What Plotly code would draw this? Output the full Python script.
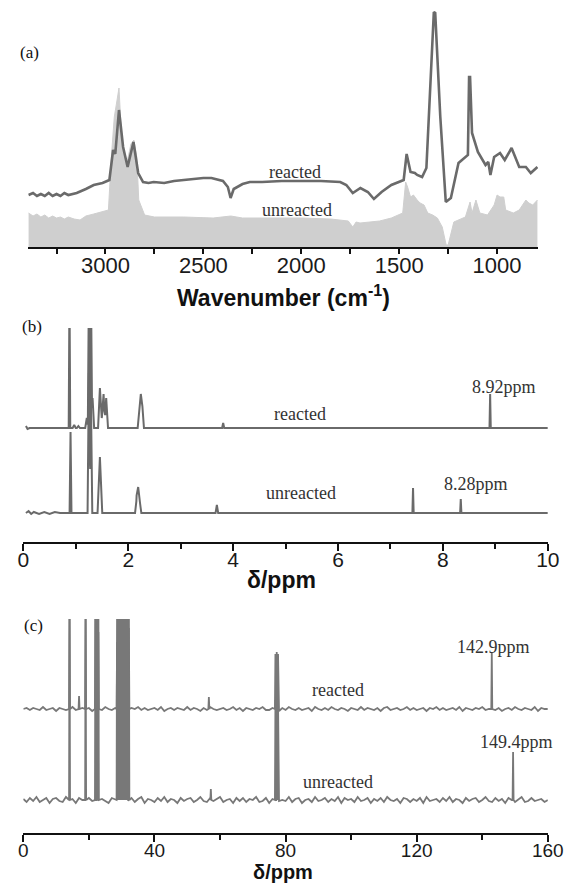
import plotly.graph_objects as go

# ---------------- DATA ----------------
# (a) FTIR spectra: wavenumber (cm-1) and intensity (arb. units)
IR_REACTED_WN = [3393, 3370, 3350, 3330, 3310, 3290, 3270, 3250, 3230, 3210, 3190, 3170, 3147,
                 3100, 3060, 3015, 2980, 2961, 2950, 2931, 2910, 2887, 2857, 2833, 2808, 2780,
                 2754, 2700, 2650, 2600, 2550, 2500, 2459, 2400, 2375, 2361, 2345, 2327, 2300,
                 2263, 2200, 2100, 2000, 1900, 1801, 1770, 1737, 1698, 1660, 1629, 1590, 1540,
                 1477, 1462, 1442, 1420, 1408, 1383, 1361, 1342, 1323, 1316, 1290, 1262, 1236,
                 1197, 1157, 1149, 1143, 1138, 1128, 1098, 1059, 1045, 1034, 1015, 985, 961,
                 926, 887, 853, 828, 794]
IR_REACTED_INT = [52, 54, 51, 53, 51, 54, 51, 53, 51, 54, 52, 53, 54,
                  58, 62, 64, 67, 97, 93, 137, 100, 80, 105, 74, 65, 64,
                  65, 64, 66, 67, 68, 69, 69, 66, 60, 49, 58, 60, 63,
                  65, 65, 66, 66, 66, 65, 62, 54, 59, 55, 48, 55, 62,
                  67, 93, 75, 74, 72, 70, 79, 150, 235, 234, 130, 45, 49,
                  84, 90, 92, 170, 170, 114, 95, 82, 85, 72, 90, 94, 87,
                  99, 80, 80, 74, 80]

IR_UNREACTED_WN = [3393, 3370, 3350, 3330, 3310, 3290, 3270, 3250, 3230, 3210, 3190, 3160, 3130,
                   3100, 3060, 3015, 2985, 2970, 2955, 2931, 2915, 2895, 2870, 2855, 2840, 2830,
                   2800, 2750, 2600, 2450, 2360, 2300, 2150, 2000, 1850, 1760, 1737, 1720, 1700,
                   1650, 1600, 1540, 1482, 1467, 1457, 1442, 1427, 1408, 1393, 1373, 1354, 1329,
                   1305, 1280, 1270, 1260, 1250, 1236, 1221, 1162, 1138, 1128, 1108, 1088, 1049,
                   1015, 1000, 985, 966, 956, 917, 887, 853, 838, 818, 794]
IR_UNREACTED_INT = [34, 31, 33, 30, 32, 29, 31, 29, 30, 28, 30, 28, 27,
                    31, 33, 35, 37, 90, 130, 159, 100, 80, 103, 107, 90, 47,
                    32, 30, 30, 29, 31, 29, 29, 29, 28, 26, 20, 25, 24,
                    25, 26, 29, 34, 65, 60, 50, 52, 47, 44, 42, 34, 32,
                    29, 20, 10, 2, 2, 14, 25, 30, 45, 34, 47, 34, 32,
                    42, 52, 50, 50, 37, 34, 37, 47, 44, 42, 47]

# (b) 1H NMR: peak positions (ppm), heights (arb. units), half line widths (ppm)
H1_REACTED_PPM = [0.88, 0.97, 1.05, 1.21, 1.25, 1.29, 1.32, 1.46, 1.50, 1.53, 1.58, 2.21, 2.24, 2.27, 3.81, 8.90]
H1_REACTED_INT = [140, 3, 2, 10, 140, 140, 30, 40, 12, 34, 30, 20, 34, 22, 5, 34]
H1_REACTED_WID = [0.015, 0.03, 0.03, 0.03, 0.02, 0.02, 0.03, 0.035, 0.03, 0.03, 0.035, 0.03, 0.03, 0.03, 0.02, 0.012]
H1_REACTED_BASE_PPM = [0.05, 0.08, 0.12, 10.0]
H1_REACTED_BASE_INT = [2, -1, 0, 0]

H1_UNREACTED_PPM = [0.90, 1.25, 1.29, 1.46, 2.16, 2.19, 2.22, 3.69, 7.43, 8.34]
H1_UNREACTED_INT = [81, 140, 110, 56, 14, 26, 12, 8, 25, 14]
H1_UNREACTED_WID = [0.018, 0.025, 0.025, 0.045, 0.03, 0.035, 0.03, 0.025, 0.012, 0.012]
H1_UNREACTED_BASE_PPM = [0.05, 0.10, 0.15, 0.20, 0.30, 0.40, 0.50, 0.60, 0.70, 10.0]
H1_UNREACTED_BASE_INT = [0, 2, -1, 1, -1, 1, -1, 1, 0, 0]

# (c) 13C NMR: peak positions (ppm) and heights (arb. units)
C13_REACTED_PPM = [14.1, 17.0, 19.0, 22.0, 22.6, 22.9, 28.6, 29.0, 29.3, 29.6, 29.9, 30.2, 30.5,
                   30.8, 31.1, 31.4, 32.2, 56.6, 76.9, 77.3, 77.7, 142.9]
C13_REACTED_INT = [100, 13, 100, 100, 100, 77, 67, 100, 100, 100, 100, 100, 100,
                   100, 100, 100, 81, 12, 55, 57, 55, 57]
C13_UNREACTED_PPM = [14.1, 19.0, 22.0, 22.6, 22.9, 28.6, 29.0, 29.3, 29.6, 29.9, 30.2, 30.5,
                     30.8, 31.1, 31.4, 31.8, 32.2, 57.2, 76.9, 77.3, 77.7, 149.4]
C13_UNREACTED_INT = [200, 200, 200, 200, 200, 200, 200, 200, 200, 200, 200, 200,
                     200, 200, 200, 200, 200, 11, 100, 103, 100, 48]
C13_BASE_PPM = [0, 1, 2, 3, 4, 5, 6, 7, 8, 9, 10, 11, 12, 13, 14, 15, 16, 17, 18, 19,
                20, 21, 22, 23, 24, 25, 26, 27, 28, 29, 30, 31, 32, 33, 34, 35, 36, 37, 38, 39,
                40, 41, 42, 43, 44, 45, 46, 47, 48, 49, 50, 51, 52, 53, 54, 55, 56, 57, 58, 59,
                60, 61, 62, 63, 64, 65, 66, 67, 68, 69, 70, 71, 72, 73, 74, 75, 76, 77, 78, 79,
                80, 81, 82, 83, 84, 85, 86, 87, 88, 89, 90, 91, 92, 93, 94, 95, 96, 97, 98, 99,
                100, 101, 102, 103, 104, 105, 106, 107, 108, 109, 110, 111, 112, 113, 114, 115, 116, 117, 118, 119,
                120, 121, 122, 123, 124, 125, 126, 127, 128, 129, 130, 131, 132, 133, 134, 135, 136, 137, 138, 139,
                140, 141, 142, 143, 144, 145, 146, 147, 148, 149, 150, 151, 152, 153, 154, 155, 156, 157, 158, 159,
                160]
C13_REACTED_NOISE = [0, 1, -1, 1, 0, -1, 2, -1, 0, 1, -2, 1, 0, -1, 1, 2, -1, 0, 1, -1,
                     1, -2, 0, 1, -1, 2, 0, -1, 1, 0, -1, 1, -2, 1, 0, 2, -1, 1, -1, 0,
                     1, -1, 2, -2, 0, 1, -1, 1, 0, -1, 2, -1, 1, 0, -2, 1, -1, 2, 0, -1,
                     0, 1, -1, 0, 2, -1, 1, -2, 1, 0, -1, 1, 0, 2, -1, -1, 1, 0, -2, 1,
                     -1, 2, 0, -1, 1, -1, 0, 1, -2, 2, 0, -1, 1, -1, 2, 0, -1, 1, 0, -2,
                     1, 0, -1, 2, -1, 1, 0, -1, 1, -2, 1, 2, -1, 0, 1, -1, 0, 2, -1, 1,
                     -1, 0, 1, -2, 1, 0, 2, -1, 1, -1, 0, 1, -1, 2, -2, 1, 0, -1, 1, 0,
                     2, -1, 0, 1, -1, 1, -2, 0, 1, -1, 2, 0, -1, 1, 0, -1, 2, -2, 1, 0,
                     0]
C13_UNREACTED_NOISE = [1, -2, 2, -1, 3, -2, 0, 2, -3, 1, 2, -1, -2, 3, -1, 1, -3, 2, 0, -2,
                       2, -1, 3, -2, 1, -1, -3, 2, 1, -2, 3, 0, -1, 2, -2, 1, 3, -3, 1, 0,
                       -2, 2, -1, 3, -2, 1, 0, -3, 2, -1, 1, 2, -2, 0, 3, -1, -2, 2, -1, 1,
                       3, -2, 0, 1, -3, 2, -1, 2, -2, 1, 0, 3, -2, -1, 2, -3, 1, 2, -1, 0,
                       -1, 3, -2, 1, 2, -3, 0, 1, -2, 3, -1, 0, 2, -2, 1, -1, 3, -3, 2, 0,
                       1, -2, 3, -1, 0, 2, -3, 1, -1, 2, -2, 3, 0, -1, 1, -3, 2, 1, -2, 1,
                       -1, 2, -3, 3, -1, 0, 1, -2, 2, -1, 3, -2, 1, 0, -3, 2, -1, 1, 2, -2,
                       0, 3, -1, -2, 2, -1, 1, -3, 2, 0, -2, 1, 3, -2, -1, 2, -1, 0, 1, -2,
                       0]

IR_TICKS = [3000, 2500, 2000, 1500, 1000]
IR_MINOR = [3250, 2750, 2250, 1750, 1250]
H1_TICKS = [0, 2, 4, 6, 8, 10]
H1_MINOR = [1, 3, 5, 7, 9]
C13_TICKS = [0, 40, 80, 120, 160]
C13_MINOR = [20, 60, 100, 140]

# ---------------- HELPERS ----------------
W, H = 585, 885


def px(x):
    return x / W


def py(y):
    return 1 - y / H


def spectrum(base_x, base_y, peaks_x, peaks_h, peaks_w, offset):
    """Envelope of triangular stick peaks drawn on top of a measured baseline."""
    knots = {}
    for x, y in zip(base_x, base_y):
        knots[round(x, 5)] = y
    for p, w in zip(peaks_x, peaks_w):
        for k in (p - w, p, p + w):
            knots.setdefault(round(k, 5), 0)
    xs = sorted(knots)
    ys = []
    for x in xs:
        v = knots[x]
        for p, h, w in zip(peaks_x, peaks_h, peaks_w):
            d = abs(x - p)
            if d < w:
                v += h * (1 - d / w)
        ys.append(v + offset)
    return xs, ys


LINE = '#6a6a6a'
LINE_C = '#787878'

fig = go.Figure()

# (a)
fig.add_trace(go.Scatter(x=IR_UNREACTED_WN, y=IR_UNREACTED_INT, mode='lines', fill='tozeroy',
                         fillcolor='#cfcfcf', line=dict(color='#cfcfcf', width=1),
                         xaxis='x', yaxis='y', showlegend=False, hoverinfo='skip'))
fig.add_trace(go.Scatter(x=IR_REACTED_WN, y=IR_REACTED_INT, mode='lines',
                         line=dict(color=LINE, width=2.6),
                         xaxis='x', yaxis='y', showlegend=False))

# (b)
bx, by = spectrum(H1_REACTED_BASE_PPM, H1_REACTED_BASE_INT, H1_REACTED_PPM, H1_REACTED_INT,
                  H1_REACTED_WID, 114)
fig.add_trace(go.Scatter(x=bx, y=by, mode='lines', line=dict(color=LINE, width=2),
                         xaxis='x2', yaxis='y2', showlegend=False))
bx, by = spectrum(H1_UNREACTED_BASE_PPM, H1_UNREACTED_BASE_INT, H1_UNREACTED_PPM, H1_UNREACTED_INT,
                  H1_UNREACTED_WID, 29)
fig.add_trace(go.Scatter(x=bx, y=by, mode='lines', line=dict(color=LINE, width=2),
                         xaxis='x2', yaxis='y2', showlegend=False))

# (c)
C_HW = 0.15
cx, cy = spectrum(C13_BASE_PPM, C13_REACTED_NOISE, C13_REACTED_PPM, C13_REACTED_INT,
                  [C_HW] * len(C13_REACTED_PPM), 124)
fig.add_trace(go.Scatter(x=cx, y=cy, mode='lines', line=dict(color=LINE_C, width=1.8),
                         xaxis='x3', yaxis='y3', showlegend=False))
cx, cy = spectrum(C13_BASE_PPM, C13_UNREACTED_NOISE, C13_UNREACTED_PPM, C13_UNREACTED_INT,
                  [C_HW] * len(C13_UNREACTED_PPM), 33)
fig.add_trace(go.Scatter(x=cx, y=cy, mode='lines', line=dict(color=LINE_C, width=1.8),
                         xaxis='x3', yaxis='y3', showlegend=False))

TICKFONT = dict(family='Liberation Sans, Arial, sans-serif', size=20, color='#1a1a1a')


def xax(domain, rng, ticks, minor, anchor, ticklen, size, standoff):
    return dict(domain=domain, range=rng, anchor=anchor, showline=True, linecolor='#111111',
                linewidth=1.6, ticks='outside', ticklen=ticklen, tickwidth=1.6, tickcolor='#111111',
                tickmode='array', tickvals=ticks, ticktext=[str(t) for t in ticks],
                minor=dict(tickmode='array', tickvals=minor, ticklen=5, tickwidth=1.6,
                           tickcolor='#111111', ticks='outside', showgrid=False),
                showgrid=False, zeroline=False, tickfont=dict(TICKFONT, size=size),
                ticklabelstandoff=standoff, fixedrange=True)


def yax(domain, rng, anchor):
    return dict(domain=domain, range=rng, anchor=anchor, visible=False, showgrid=False,
                zeroline=False, fixedrange=True)


fig.update_layout(
    width=W, height=H, margin=dict(l=0, r=0, t=0, b=0),
    paper_bgcolor='white', plot_bgcolor='white',
    xaxis=xax([px(23), px(553)], [3395, 790], IR_TICKS, IR_MINOR, 'y', 5, 22, -7),
    yaxis=yax([py(247), py(8)], [0, 239], 'x'),
    xaxis2=xax([px(18), px(563)], [0, 10], H1_TICKS, H1_MINOR, 'y2', 7, 21, -9),
    yaxis2=yax([py(542), py(328)], [0, 214], 'x2'),
    xaxis3=xax([px(18), px(563)], [0, 160], C13_TICKS, C13_MINOR, 'y3', 7, 19, -8),
    yaxis3=yax([py(833), py(619)], [0, 214], 'x3'),
)

SERIF = 'Liberation Serif, Times New Roman, serif'
SANS = 'Liberation Sans, Arial, sans-serif'


def label(text, x, y, size=18, family=SERIF, color='#333333'):
    fig.add_annotation(text=text, x=px(x), y=py(y), xref='paper', yref='paper',
                       xanchor='center', yanchor='middle', showarrow=False,
                       font=dict(family=family, size=size, color=color))


label('(a)', 24, 52, 17, color='#111111')
label('(b)', 27, 327, 17, color='#111111')
label('(c)', 29, 625, 17, color='#111111')

label('reacted', 300, 172)
label('unreacted', 302, 210)
label('reacted', 305, 414)
label('unreacted', 307, 493)
label('8.92ppm', 517, 387)
label('8.28ppm', 488, 484)
label('reacted', 345, 690)
label('unreacted', 345, 782)
label('142.9ppm', 507, 647)
label('149.4ppm', 530, 742)

label('<b>Wavenumber (cm<sup>-1</sup>)</b>', 288, 296, 23, SANS, '#111111')
label('<b>δ/ppm</b>', 286, 580, 23, SANS, '#111111')
label('<b>δ/ppm</b>', 288, 872, 20, SANS, '#111111')

fig.write_html('out.html')
